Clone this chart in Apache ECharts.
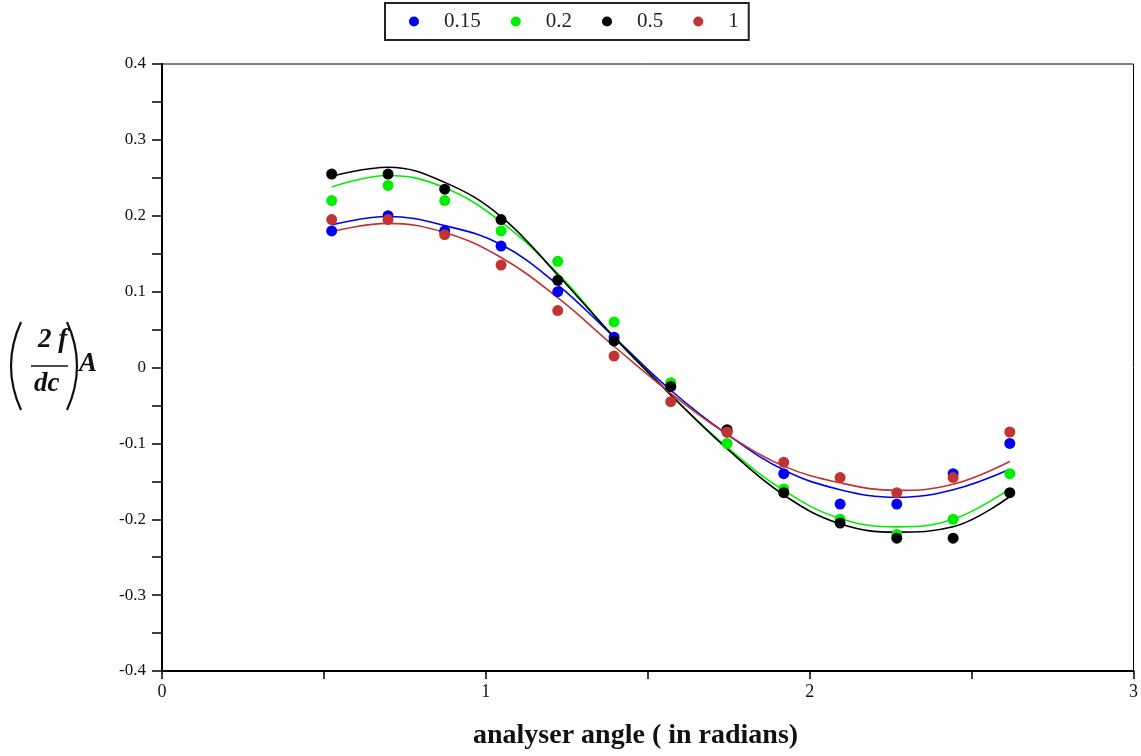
<!DOCTYPE html>
<html><head><meta charset="utf-8">
<script src="https://cdn.jsdelivr.net/npm/echarts@6/dist/echarts.min.js"></script>
<style>html,body{margin:0;padding:0;background:#fff}#c{width:1141px;height:756px}</style>
</head><body><div id="c"></div>
<script>
// analyser angle (radians)
const angles = [0.524, 0.698, 0.873, 1.047, 1.222, 1.396, 1.571, 1.745, 1.920, 2.094, 2.269, 2.443, 2.618];
const seriesNames = ['0.15', '0.2', '0.5', '1'];
// measured points
const pts015 = [0.18, 0.20, 0.18, 0.16, 0.10, 0.04, -0.025, -0.085, -0.14, -0.18, -0.18, -0.14, -0.10];
const pts02  = [0.22, 0.24, 0.22, 0.18, 0.14, 0.06, -0.02, -0.10, -0.16, -0.20, -0.22, -0.20, -0.14];
const pts05  = [0.255, 0.255, 0.235, 0.195, 0.115, 0.035, -0.025, -0.082, -0.165, -0.205, -0.225, -0.225, -0.165];
const pts1   = [0.195, 0.195, 0.175, 0.135, 0.075, 0.015, -0.045, -0.085, -0.125, -0.145, -0.165, -0.145, -0.085];
// fitted curves
const fit015 = [0.188, 0.199, 0.187, 0.162, 0.109, 0.040, -0.030, -0.088, -0.135, -0.161, -0.171, -0.161, -0.134];
const fit02  = [0.238, 0.253, 0.237, 0.192, 0.124, 0.040, -0.036, -0.105, -0.162, -0.199, -0.210, -0.200, -0.160];
const fit05  = [0.252, 0.264, 0.244, 0.199, 0.122, 0.040, -0.036, -0.107, -0.168, -0.206, -0.217, -0.210, -0.170];
const fit1   = [0.179, 0.190, 0.178, 0.145, 0.092, 0.028, -0.034, -0.088, -0.130, -0.152, -0.162, -0.154, -0.124];
const xTickLabels = ['0', '1', '2', '3'];
const yTickLabels = ['-0.4', '-0.3', '-0.2', '-0.1', '0', '0.1', '0.2', '0.3', '0.4'];
const xTitle = 'analyser angle ( in radians)';

const colors = ['#0000f0', '#00ee00', '#000000', '#c23434'];
const pts = [pts015, pts02, pts05, pts1];
const fits = [fit015, fit02, fit05, fit1];
const pair = arr => angles.map((a, i) => [a, arr[i]]);
const serif = 'Liberation Serif';

const series = [];
fits.forEach((f, k) => series.push({
  name: 'fit' + k, type: 'line', data: pair(f), smooth: 0.4, showSymbol: false,
  lineStyle: {color: colors[k], width: 1.6}, z: 2, silent: true
}));
pts.forEach((p, k) => series.push({
  name: seriesNames[k], type: 'scatter', data: pair(p), symbol: 'circle', symbolSize: 11,
  itemStyle: {color: colors[k], opacity: 1}, z: 3 + k
}));

const chart = echarts.init(document.getElementById('c'));
chart.setOption({
  animation: false,
  backgroundColor: '#fff',
  legend: {
    data: seriesNames, top: 3, left: 385, orient: 'horizontal',
    borderColor: '#222', borderWidth: 2, padding: [8, 10, 8, 24],
    itemWidth: 10, itemHeight: 10, itemGap: 30, icon: 'circle',
    textStyle: {fontFamily: serif, fontSize: 21, color: '#222', padding: [0, 0, 0, 20]}
  },
  grid: {left: 162, right: 7, top: 64, bottom: 85, show: true, borderColor: '#000', borderWidth: 1},
  xAxis: {
    type: 'value', min: 0, max: 3, interval: 0.5,
    axisLine: {onZero: false, lineStyle: {color: '#000', width: 2}},
    axisTick: {length: 8, lineStyle: {color: '#000', width: 1.5}},
    splitLine: {show: false},
    axisLabel: {fontFamily: serif, fontSize: 18, color: '#111', margin: 12,
      formatter: v => (Math.abs(v - Math.round(v)) < 1e-6 ? xTickLabels[Math.round(v)] : '')}
  },
  yAxis: {
    type: 'value', min: -0.4, max: 0.4, interval: 0.05,
    axisLine: {onZero: false, lineStyle: {color: '#000', width: 2}},
    axisTick: {length: 10, lineStyle: {color: '#000', width: 1.5}},
    splitLine: {show: false},
    axisLabel: {fontFamily: serif, fontSize: 17, color: '#111', margin: 16,
      formatter: v => {
        const t = Math.round(v * 10);
        return Math.abs(v * 10 - t) < 1e-6 ? yTickLabels[t + 4] : '';
      }}
  },
  graphic: [
    {type: 'text', left: 473, top: 722, style: {text: xTitle, fontFamily: serif, fontSize: 28, fontWeight: 'bold', fill: '#111'}},
    {type: 'bezierCurve', shape: {x1: 21, y1: 322, x2: 21, y2: 410, cpx1: 1, cpy1: 366}, style: {stroke: '#111', lineWidth: 2.2, fill: null}},
    {type: 'text', left: 38, top: 327, style: {text: '2 f', fontFamily: serif, fontSize: 27, fontWeight: 'bold', fontStyle: 'italic', fill: '#111'}},
    {type: 'line', shape: {x1: 31, y1: 366, x2: 68, y2: 366}, style: {stroke: '#111', lineWidth: 1.6}},
    {type: 'text', left: 34, top: 371, style: {text: 'dc', fontFamily: serif, fontSize: 27, fontWeight: 'bold', fontStyle: 'italic', fill: '#111'}},
    {type: 'bezierCurve', shape: {x1: 67, y1: 322, x2: 67, y2: 410, cpx1: 87, cpy1: 366}, style: {stroke: '#111', lineWidth: 2.2, fill: null}},
    {type: 'text', left: 79, top: 351, style: {text: 'A', fontFamily: serif, fontSize: 27, fontWeight: 'bold', fontStyle: 'italic', fill: '#111'}}
  ],
  series: series
});
</script></body></html>
